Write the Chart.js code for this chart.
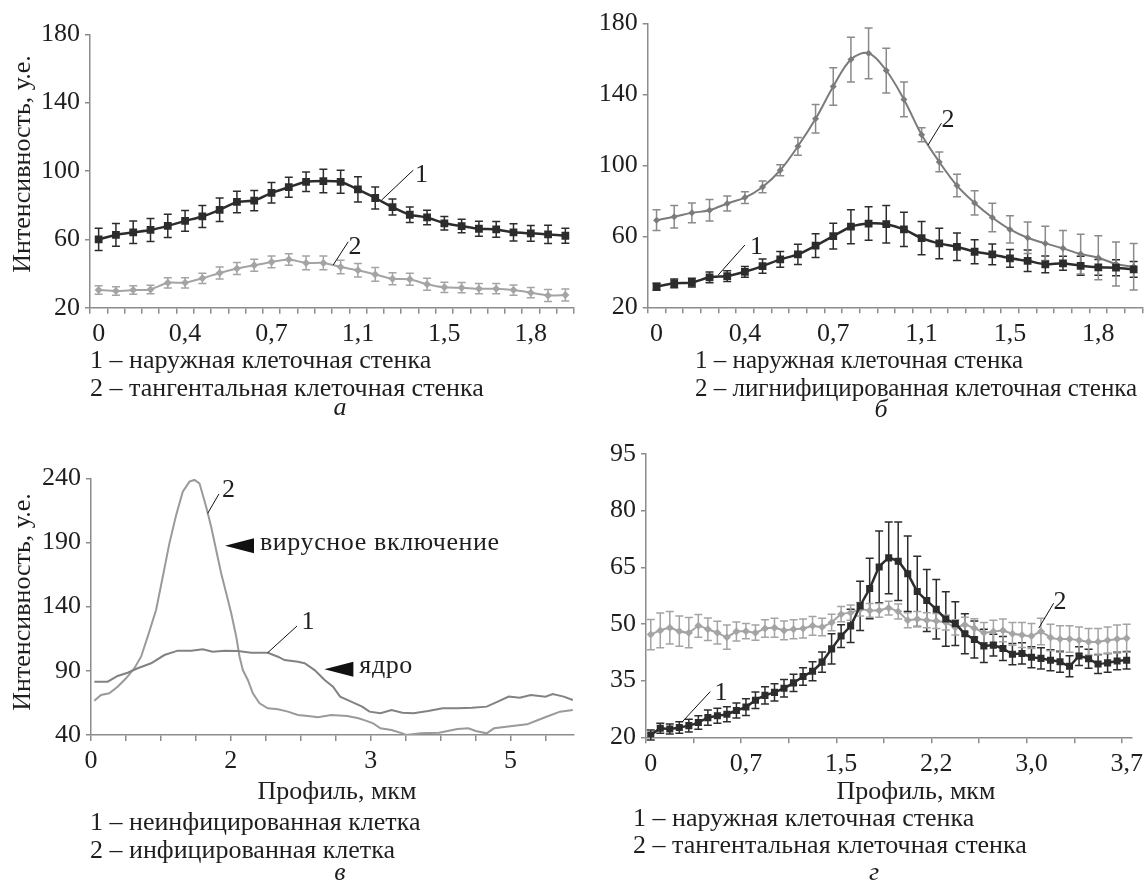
<!DOCTYPE html>
<html><head><meta charset="utf-8">
<script src="https://cdn.jsdelivr.net/npm/chart.js@4.4.1/dist/chart.umd.min.js"></script>
<style>
html,body{margin:0;padding:0;background:#fff;}
body{width:1148px;height:894px;position:relative;overflow:hidden;font-family:"Liberation Serif","Times New Roman",serif;color:#1e1e1e;}
canvas{position:absolute;left:0;top:0;}
.t{position:absolute;font-size:26px;line-height:26px;white-space:nowrap;}
.s{font-size:25px;}
.c{transform:translateX(-50%);}
.i{font-style:italic;}
.r{transform:translate(-50%,-50%) rotate(-90deg);}
</style></head><body>
<canvas id="ca" width="1148" height="894"></canvas>
<canvas id="cb" width="1148" height="894"></canvas>
<canvas id="cv" width="1148" height="894"></canvas>
<canvas id="cg" width="1148" height="894"></canvas>

<div class="t r" style="left:22px;top:164px">Интенсивность, у.е.</div>
<div class="t" style="left:90px;top:347px">1 – наружная клеточная стенка</div>
<div class="t" style="left:90px;top:375px">2 – тангентальная клеточная стенка</div>
<div class="t c i" style="left:340px;top:394px">а</div>

<div class="t s" style="left:695px;top:347px">1 – наружная клеточная стенка</div>
<div class="t s" style="left:695px;top:375px">2 – лигнифицированная клеточная стенка</div>
<div class="t c i" style="left:881px;top:396px">б</div>

<div class="t r" style="left:22px;top:602px">Интенсивность, у.е.</div>
<div class="t c" style="left:337px;top:778px">Профиль, мкм</div>
<div class="t" style="left:90px;top:809px">1 – неинфицированная клетка</div>
<div class="t" style="left:90px;top:837px">2 – инфицированная клетка</div>
<div class="t c i" style="left:340px;top:859px">в</div>

<div class="t c" style="left:916px;top:778px">Профиль, мкм</div>
<div class="t" style="left:633px;top:805px">1 – наружная клеточная стенка</div>
<div class="t" style="left:633px;top:832px">2 – тангентальная клеточная стенка</div>
<div class="t c i" style="left:874px;top:859px">г</div>

<script>
// ---------- DATA ----------
// Panel а
const aTickLabels = ['0','0,4','0,7','1,1','1,5','1,8'];
const aS1 = [60,62.6,64.1,65.5,67.9,70.8,73.4,77.3,81.9,82.7,87.2,90.5,93.7,94.1,93.7,89.2,84.2,78.9,74.4,72.8,69.4,67.8,66.2,65.8,64.1,63.5,62.9,62.1];
const aE1 = [6.5,6.7,6.6,6.7,6.8,6.1,6.4,6.9,6.3,5.9,6,5.9,5.7,6.9,6.7,7.4,6.4,4.7,4.5,4.3,3.9,3.9,4.4,4.6,5.1,4.6,5.4,4.4];
const aS2 = [30.3,29.8,30.3,30.7,34.6,34.6,37.2,40.3,42.9,44.8,46.8,48.2,46.2,46.2,43.8,41.9,39.5,36.9,36.6,33.7,31.9,31.7,31.1,31.1,30.3,28.8,27.2,27.4];
const aE2 = [2.5,2.5,2.5,2.5,3,3,3,3.5,3.5,3.5,3.4,3.4,4,4,4,4,4,3.5,3.5,3.5,3,3,3,3,3,3,3.5,3.5];

// Panel б
const bTickLabels = ['0','0,4','0,7','1,1','1,5','1,8'];
const bS1 = [31.6,33.5,33.9,36.9,37.6,40,43.2,47,49.8,54.7,60.1,65.4,67.2,66.8,63.9,59,56,54.1,51.3,49.8,47.6,46.2,44.2,44.8,43.4,42.5,42.3,41.4];
const bE1 = [2,2.5,2.5,3,3,3,4,4.5,5.7,6.7,7.3,9.6,9.4,10.6,9.6,9.4,8.6,7.7,6.8,5.8,5,6.1,4.7,3.9,5.4,4.4,4.5,4.4];
const bS2 = [69.1,71,73.2,74.7,78.5,81.8,87.8,97.2,110.7,126.2,144.4,159.6,163.1,153.4,137.1,117.2,101.9,88.6,78.8,70.6,63.9,59.2,56,53.2,50,47.9,44.4,42.8];
const bE2 = [5.8,6.3,5.6,6.1,4.2,3.3,3.3,3.1,5,8,10.5,12.6,14.3,12.6,9.8,4,5.6,6.3,6.8,8,7.7,8.9,9.6,10.1,11.2,12.4,12.4,13.1];

// Panel в (profile position in µm, intensity)
const vTickLabels = ['0','2','3','5'];
const vX1 = [0.039,0.197,0.314,0.433,0.551,0.709,0.866,1.024,1.182,1.319,1.437,1.576,1.733,1.891,2.087,2.206,2.285,2.442,2.521,2.639,2.757,2.856,2.94,3.07,3.2,3.286,3.416,3.546,3.675,3.805,3.978,4.151,4.324,4.497,4.67,4.8,4.93,5.06,5.19,5.363,5.449,5.579,5.686];
const vY1 = [81.5,81.5,86,88.5,92,95.9,102.3,105.7,105.7,106.8,104.9,105.7,105.4,104.1,104.1,101,98.4,97.1,95.9,90.6,82.9,77.6,69.9,66,62.1,58.2,56.9,59.5,57.4,56.9,58.7,60.8,60.8,61.3,62.1,66,69.9,69.1,71.2,69.9,71.9,69.9,67.3];
const vX2 = [0.039,0.118,0.216,0.314,0.414,0.512,0.591,0.669,0.768,0.847,0.925,1.005,1.083,1.162,1.221,1.28,1.359,1.418,1.477,1.536,1.596,1.655,1.714,1.753,1.792,1.851,1.91,1.989,2.087,2.206,2.324,2.442,2.56,2.678,2.836,3.026,3.156,3.242,3.33,3.416,3.546,3.675,3.718,3.891,4.107,4.324,4.454,4.54,4.67,4.756,4.973,5.146,5.276,5.406,5.535,5.686];
const vY2 = [66.7,71.2,72.5,77.6,84.2,92,101,116.6,137.4,163.3,189.3,211.4,229.6,237.4,238.7,236.1,217.9,202.3,184.1,166,150.4,134.8,116.6,101,90.6,82.9,72.5,64.7,60.8,60,58.2,55.6,54.8,53.8,55.6,54.8,53,51.2,49.1,45.2,43.9,41.3,40,41.3,41.8,44.7,45.2,43.1,41.3,45.2,47,48.3,51.7,55,58.2,59.5];
const V_STEP = 0.4125, V_MAX = 5.70;

// Panel г
const gTickLabels = ['0','0,7','1,5','2,2','3,0','3,7'];
const gS1 = [20.6,22.4,22.2,22.6,23.1,23.9,25.2,25.7,26.1,27.1,28,29.8,31.1,31.9,33,34.4,36.1,37.5,39.9,43.4,46.8,49.5,54.8,59.4,65.1,67.5,66.6,63.3,58.6,56.2,53.9,51.3,50.1,47.4,45.9,44.2,44.4,43.5,42,42.2,41.2,40.9,40.4,40,38.8,41.5,40.8,39.4,39.7,40.2,40.4];
const gE1 = [1.3,1.3,1.3,1.5,1.7,1.8,2,2,2,2,2.2,2.2,2.3,2.3,2.3,2.3,2.3,2.5,2.7,4,3,4.4,6.5,8,9.5,9.5,10.4,10,9.3,8.2,7.9,7.2,5.8,5.3,4.9,4.4,2.9,3.2,2.8,2.8,2.8,2.8,2.8,2.8,2.8,2.5,2.5,2.5,2.5,2.3,2.3];
const gS2 = [47.2,48.3,49,48.1,47.7,49.5,48.6,47.7,46.5,48,48.1,47.7,48.8,49,48.3,48.6,48.8,49.5,49.2,50.4,52.6,53,53.9,53.6,53.6,54.2,53.3,51,51.3,51,50.8,50.4,49.1,49.8,48.9,47.7,48,48.3,47.4,47.1,46.8,48,46.4,46,46,45.7,45.3,45.3,45.7,46,46.2];
const gE2 = [4,4.6,4.3,4,4,3,3,3,3.2,2.5,2,2,2.3,2.5,2.5,2.5,2.5,2.5,2.3,2.2,2,2,1.8,1.8,1.8,1.8,2,2,2,2,2,2,2,2,2.5,2.7,3,3,3,3.3,3.3,3.5,3.5,3.5,3.5,3.5,3.5,3.5,3.5,3.7,3.7];

// ---------- ANNOTATIONS (data coordinates) ----------
const aNotes = {labels:[{x:18.68,y:97.6,t:'1'},{x:14.83,y:55.7,t:'2'}],
  leaders:[{x1:16.37,y1:83,x2:18.2,y2:100.5},{x1:13.57,y1:45,x2:14.44,y2:58.6}], arrows:[]};
const bNotes = {labels:[{x:16.49,y:125.2,t:'2'},{x:5.66,y:53.9,t:'1'}],
  leaders:[{x1:15.36,y1:111.4,x2:16.12,y2:123.7},{x1:3.49,y1:38.2,x2:5,y2:55.1}], arrows:[]};
const vNotes = {labels:[{x:1.622,y:231,t:'2'},{x:2.561,y:128,t:'1'}],
  leaders:[{x1:1.377,y1:212.7,x2:1.51,y2:227.8},{x1:2.085,y1:104.1,x2:2.431,y2:124.9}],
  arrows:[{x:1.581,y:187.4,t:'вирусное включение'},{x:2.754,y:91.3,t:'ядро'}]};
const gNotes = {labels:[{x:7.39,y:31.6,t:'1'},{x:43.0,y:55.9,t:'2'}],
  leaders:[{x1:3.31,y1:24.1,x2:6.25,y2:32.1},{x1:40.77,y1:48.9,x2:42.33,y2:55.5}], arrows:[]};

// ---------- STYLE / HELPERS ----------
const W = 1148, H = 894, YW = 70, XH = 50;
const FONT = '"Liberation Serif", "Times New Roman", serif';
const AXIS = '#8c8c8c', TXT = '#1e1e1e';
const DARK = '#2c2c2c', LIGHT = '#a4a4a4', MID = '#7b7b7b';
Chart.defaults.font.family = FONT;
Chart.defaults.font.size = 26;
Chart.defaults.color = TXT;

const errorBars = {
  id: 'errorBars',
  beforeDatasetsDraw(chart) {
    const ctx = chart.ctx, ys = chart.scales.y;
    chart.data.datasets.forEach((ds, di) => {
      if (!ds.errors) return;
      const meta = chart.getDatasetMeta(di);
      ctx.save();
      ctx.strokeStyle = ds.errorColor; ctx.lineWidth = 1.5;
      meta.data.forEach((pt, i) => {
        const v = ds.data[i], e = ds.errors[i];
        const y1 = ys.getPixelForValue(v - e), y2 = ys.getPixelForValue(v + e), x = pt.x, c = 4;
        ctx.beginPath();
        ctx.moveTo(x, y1); ctx.lineTo(x, y2);
        ctx.moveTo(x - c, y1); ctx.lineTo(x + c, y1);
        ctx.moveTo(x - c, y2); ctx.lineTo(x + c, y2);
        ctx.stroke();
      });
      ctx.restore();
    });
  }
};

function makeNotes(n) {
  return {
    id: 'notes',
    afterDatasetsDraw(chart) {
      const ctx = chart.ctx, xs = chart.scales.x, ys = chart.scales.y;
      const px = v => xs.getPixelForValue(v), py = v => ys.getPixelForValue(v);
      ctx.save();
      ctx.strokeStyle = '#111'; ctx.fillStyle = TXT; ctx.lineWidth = 1;
      n.leaders.forEach(l => {
        ctx.beginPath(); ctx.moveTo(px(l.x1), py(l.y1)); ctx.lineTo(px(l.x2), py(l.y2)); ctx.stroke();
      });
      ctx.font = '26px ' + FONT;
      ctx.textAlign = 'center'; ctx.textBaseline = 'middle';
      n.labels.forEach(l => ctx.fillText(l.t, px(l.x), py(l.y)));
      n.arrows.forEach(a => {
        const x = px(a.x), y = py(a.y), w = 29, h = 15;
        ctx.fillStyle = '#111';
        ctx.beginPath(); ctx.moveTo(x, y); ctx.lineTo(x + w, y - h / 2); ctx.lineTo(x + w, y + h / 2); ctx.closePath(); ctx.fill();
        ctx.fillStyle = TXT; ctx.textAlign = 'left';
        if ('letterSpacing' in ctx) ctx.letterSpacing = '0.6px';
        ctx.fillText(a.t, x + w + 6, y - 3);
        if ('letterSpacing' in ctx) ctx.letterSpacing = '0px';
      });
      ctx.restore();
    }
  };
}

function yScale(min, max, step) {
  return {
    type: 'linear', min, max,
    ticks: {stepSize: step, padding: 5, color: TXT, font: {size: 26}},
    grid: {drawOnChartArea: false, drawTicks: true, tickLength: 5, color: AXIS, lineWidth: 1.5},
    border: {display: true, color: AXIS, width: 1.5},
    afterFit(s) { s.width = YW; }
  };
}
function catScale(labels, every, tickEvery, lastTick) {
  return {
    type: 'category', offset: true,
    ticks: {autoSkip: false, maxRotation: 0, minRotation: 0, padding: 5, color: TXT, font: {size: 26},
      callback: (v, i) => (i % every === 0 && labels[i / every] !== undefined) ? labels[i / every] : ''},
    grid: {offset: true, drawOnChartArea: false, drawTicks: true, tickLength: 6, lineWidth: 1.5,
      color: c => (c.index === undefined ? lastTick : c.index % tickEvery === 0) ? AXIS : 'rgba(0,0,0,0)'},
    border: {display: true, color: AXIS, width: 1.5},
    afterFit(s) { s.height = XH; }
  };
}
function opts(area, x, y) {
  return {
    responsive: false, animation: false, events: [],
    layout: {padding: {left: area.l - YW, top: area.t, right: W - area.r, bottom: H - area.b - XH}},
    plugins: {legend: {display: false}, tooltip: {enabled: false}},
    scales: {x, y}
  };
}
function series(data, errors, color, errColor, style, radius, width, tension) {
  return {data, errors, errorColor: errColor, borderColor: color, backgroundColor: color,
    pointBackgroundColor: color, pointBorderColor: color, pointStyle: style, pointRadius: radius,
    pointBorderWidth: 0, borderWidth: width, tension: tension || 0, fill: false};
}

// ---------- CHARTS ----------
new Chart(document.getElementById('ca'), {
  type: 'line',
  data: {labels: aS1.map((_, i) => i), datasets: [
    series(aS1, aE1, DARK, DARK, 'rect', 5.5, 2.5, 0.2),
    series(aS2, aE2, LIGHT, LIGHT, 'rectRot', 4, 2, 0.2)]},
  options: opts({l: 90, t: 34.3, r: 574, b: 307.7}, catScale(aTickLabels, 5, 1, true), yScale(20, 180, 40)),
  plugins: [errorBars, makeNotes(aNotes)]
});

new Chart(document.getElementById('cb'), {
  type: 'line',
  data: {labels: bS1.map((_, i) => i), datasets: [
    series(bS1, bE1, DARK, DARK, 'rect', 5.5, 2.5, 0.2),
    series(bS2, bE2, MID, '#8a8a8a', 'rectRot', 3.5, 2, 0.35)]},
  options: opts({l: 647.7, t: 23.3, r: 1143, b: 307.3}, catScale(bTickLabels, 5, 1, true), yScale(20, 180, 40)),
  plugins: [errorBars, makeNotes(bNotes)]
});

const vTicks = [];
for (let k = 0; k * V_STEP <= V_MAX + 1e-9; k++) vTicks.push(k * V_STEP);
new Chart(document.getElementById('cv'), {
  type: 'line',
  data: {datasets: [
    {data: vX1.map((x, i) => ({x, y: vY1[i]})), borderColor: '#828282', borderWidth: 2, pointRadius: 0, tension: 0, fill: false},
    {data: vX2.map((x, i) => ({x, y: vY2[i]})), borderColor: '#9a9a9a', borderWidth: 2, pointRadius: 0, tension: 0, fill: false}]},
  options: opts({l: 91, t: 478.3, r: 574, b: 735},
    {type: 'linear', min: 0, max: V_MAX,
      afterBuildTicks(s) { s.ticks = vTicks.map(v => ({value: v})); },
      ticks: {autoSkip: false, maxRotation: 0, padding: 5, color: TXT, font: {size: 26},
        callback: (v, i) => (i % 4 === 0 && vTickLabels[i / 4] !== undefined) ? vTickLabels[i / 4] : ''},
      grid: {drawOnChartArea: false, drawTicks: true, tickLength: 6, color: AXIS, lineWidth: 1.5},
      border: {display: true, color: AXIS, width: 1.5},
      afterFit(s) { s.height = XH; }},
    yScale(40, 240, 50)),
  plugins: [makeNotes(vNotes)]
});

new Chart(document.getElementById('cg'), {
  type: 'line',
  data: {labels: gS1.map((_, i) => i), datasets: [
    series(gS1, gE1, DARK, DARK, 'rect', 5, 2.5, 0.1),
    series(gS2, gE2, LIGHT, LIGHT, 'rectRot', 4, 2, 0.1)]},
  options: opts({l: 646, t: 454, r: 1137, b: 737.3}, catScale(gTickLabels, 10, 5, false), yScale(20, 95, 15)),
  plugins: [errorBars, makeNotes(gNotes)]
});
</script>
</body></html>
